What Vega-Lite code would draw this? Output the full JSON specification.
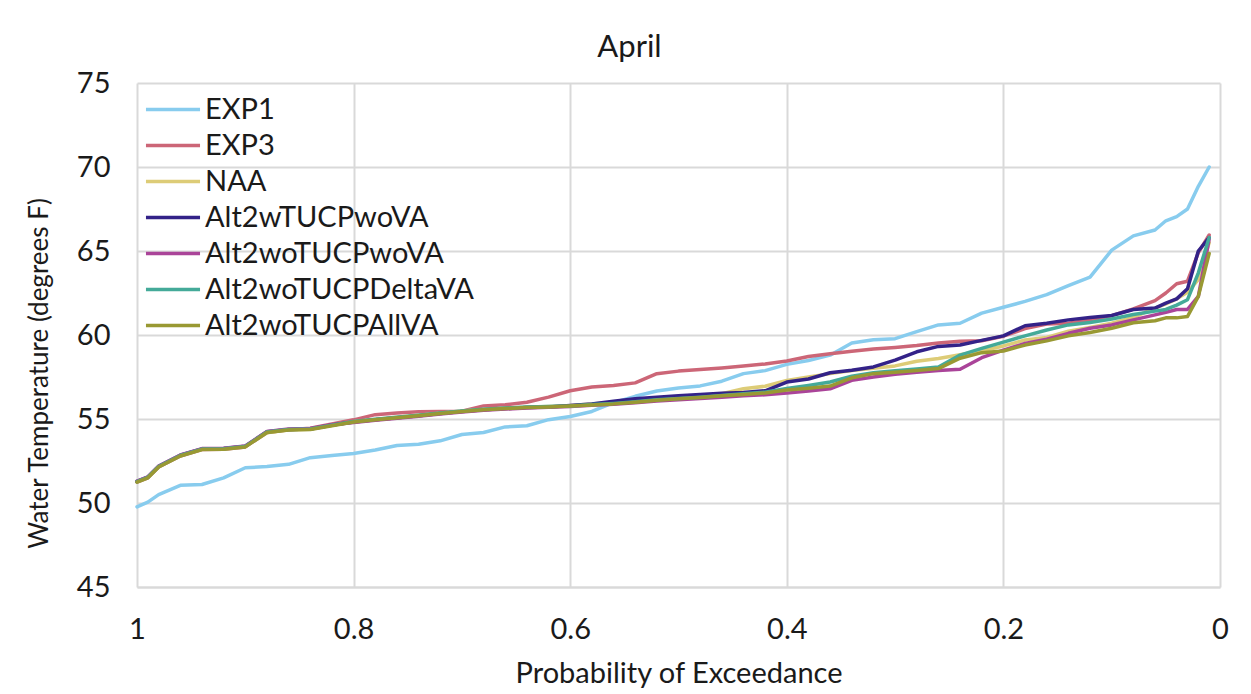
{
  "$schema": "https://vega.github.io/schema/vega-lite/v6.json",
  "autosize": "none",
  "width": 1083,
  "height": 504,
  "padding": {"left": 137, "top": 83, "right": 31, "bottom": 107},
  "background": "white",
  "config": {"font": "Lato", "view": {"stroke": null}},
  "title": {"text": "April", "fontSize": 31, "fontWeight": "normal", "color": "#1a1a1a", "anchor": "middle", "frame": "group", "offset": -19, "baseline": "alphabetic", "dx": -49},
  "data": {"values": [
    {"p": 1.00, "EXP1": 49.77, "EXP3": 51.24, "NAA": 51.26, "Alt2wTUCPwoVA": 51.28, "Alt2woTUCPwoVA": 51.3, "Alt2woTUCPDeltaVA": 51.27, "Alt2woTUCPAllVA": 51.24},
    {"p": 0.99, "EXP1": 50.05, "EXP3": 51.5, "NAA": 51.52, "Alt2wTUCPwoVA": 51.54, "Alt2woTUCPwoVA": 51.56, "Alt2woTUCPDeltaVA": 51.53, "Alt2woTUCPAllVA": 51.5},
    {"p": 0.98, "EXP1": 50.5, "EXP3": 52.14, "NAA": 52.16, "Alt2wTUCPwoVA": 52.18, "Alt2woTUCPwoVA": 52.2, "Alt2woTUCPDeltaVA": 52.17, "Alt2woTUCPAllVA": 52.14},
    {"p": 0.96, "EXP1": 51.05, "EXP3": 52.8, "NAA": 52.82, "Alt2wTUCPwoVA": 52.84, "Alt2woTUCPwoVA": 52.86, "Alt2woTUCPDeltaVA": 52.83, "Alt2woTUCPAllVA": 52.8},
    {"p": 0.94, "EXP1": 51.1, "EXP3": 53.18, "NAA": 53.2, "Alt2wTUCPwoVA": 53.22, "Alt2woTUCPwoVA": 53.24, "Alt2woTUCPDeltaVA": 53.21, "Alt2woTUCPAllVA": 53.18},
    {"p": 0.92, "EXP1": 51.5, "EXP3": 53.2, "NAA": 53.22, "Alt2wTUCPwoVA": 53.24, "Alt2woTUCPwoVA": 53.26, "Alt2woTUCPDeltaVA": 53.23, "Alt2woTUCPAllVA": 53.2},
    {"p": 0.90, "EXP1": 52.1, "EXP3": 53.34, "NAA": 53.36, "Alt2wTUCPwoVA": 53.38, "Alt2woTUCPwoVA": 53.4, "Alt2woTUCPDeltaVA": 53.37, "Alt2woTUCPAllVA": 53.34},
    {"p": 0.88, "EXP1": 52.17, "EXP3": 54.2, "NAA": 54.18, "Alt2wTUCPwoVA": 54.24, "Alt2woTUCPwoVA": 54.26, "Alt2woTUCPDeltaVA": 54.23, "Alt2woTUCPAllVA": 54.2},
    {"p": 0.86, "EXP1": 52.3, "EXP3": 54.36, "NAA": 54.36, "Alt2wTUCPwoVA": 54.38, "Alt2woTUCPwoVA": 54.4, "Alt2woTUCPDeltaVA": 54.37, "Alt2woTUCPAllVA": 54.34},
    {"p": 0.84, "EXP1": 52.7, "EXP3": 54.45, "NAA": 54.39, "Alt2wTUCPwoVA": 54.41, "Alt2woTUCPwoVA": 54.43, "Alt2woTUCPDeltaVA": 54.4, "Alt2woTUCPAllVA": 54.37},
    {"p": 0.82, "EXP1": 52.83, "EXP3": 54.7, "NAA": 54.62, "Alt2wTUCPwoVA": 54.64, "Alt2woTUCPwoVA": 54.66, "Alt2woTUCPDeltaVA": 54.63, "Alt2woTUCPAllVA": 54.6},
    {"p": 0.80, "EXP1": 52.95, "EXP3": 54.95, "NAA": 54.84, "Alt2wTUCPwoVA": 54.82, "Alt2woTUCPwoVA": 54.79, "Alt2woTUCPDeltaVA": 54.85, "Alt2woTUCPAllVA": 54.82},
    {"p": 0.78, "EXP1": 53.15, "EXP3": 55.26, "NAA": 54.97, "Alt2wTUCPwoVA": 54.95, "Alt2woTUCPwoVA": 54.92, "Alt2woTUCPDeltaVA": 54.98, "Alt2woTUCPAllVA": 54.95},
    {"p": 0.76, "EXP1": 53.42, "EXP3": 55.36, "NAA": 55.1, "Alt2wTUCPwoVA": 55.08, "Alt2woTUCPwoVA": 55.05, "Alt2woTUCPDeltaVA": 55.11, "Alt2woTUCPAllVA": 55.08},
    {"p": 0.74, "EXP1": 53.5, "EXP3": 55.43, "NAA": 55.22, "Alt2wTUCPwoVA": 55.2, "Alt2woTUCPwoVA": 55.17, "Alt2woTUCPDeltaVA": 55.23, "Alt2woTUCPAllVA": 55.2},
    {"p": 0.72, "EXP1": 53.7, "EXP3": 55.44, "NAA": 55.35, "Alt2wTUCPwoVA": 55.33, "Alt2woTUCPwoVA": 55.3, "Alt2woTUCPDeltaVA": 55.36, "Alt2woTUCPAllVA": 55.33},
    {"p": 0.70, "EXP1": 54.08, "EXP3": 55.46, "NAA": 55.47, "Alt2wTUCPwoVA": 55.45, "Alt2woTUCPwoVA": 55.42, "Alt2woTUCPDeltaVA": 55.48, "Alt2woTUCPAllVA": 55.45},
    {"p": 0.68, "EXP1": 54.2, "EXP3": 55.78, "NAA": 55.57, "Alt2wTUCPwoVA": 55.55, "Alt2woTUCPwoVA": 55.52, "Alt2woTUCPDeltaVA": 55.58, "Alt2woTUCPAllVA": 55.55},
    {"p": 0.66, "EXP1": 54.53, "EXP3": 55.85, "NAA": 55.64, "Alt2wTUCPwoVA": 55.62, "Alt2woTUCPwoVA": 55.59, "Alt2woTUCPDeltaVA": 55.65, "Alt2woTUCPAllVA": 55.62},
    {"p": 0.64, "EXP1": 54.6, "EXP3": 56.0, "NAA": 55.7, "Alt2wTUCPwoVA": 55.68, "Alt2woTUCPwoVA": 55.65, "Alt2woTUCPDeltaVA": 55.71, "Alt2woTUCPAllVA": 55.68},
    {"p": 0.62, "EXP1": 54.96, "EXP3": 56.3, "NAA": 55.74, "Alt2wTUCPwoVA": 55.72, "Alt2woTUCPwoVA": 55.7, "Alt2woTUCPDeltaVA": 55.75, "Alt2woTUCPAllVA": 55.72},
    {"p": 0.60, "EXP1": 55.15, "EXP3": 56.68, "NAA": 55.8, "Alt2wTUCPwoVA": 55.8, "Alt2woTUCPwoVA": 55.75, "Alt2woTUCPDeltaVA": 55.78, "Alt2woTUCPAllVA": 55.77},
    {"p": 0.58, "EXP1": 55.45, "EXP3": 56.9, "NAA": 55.9, "Alt2wTUCPwoVA": 55.9, "Alt2woTUCPwoVA": 55.82, "Alt2woTUCPDeltaVA": 55.86, "Alt2woTUCPAllVA": 55.84},
    {"p": 0.56, "EXP1": 55.97, "EXP3": 57.0, "NAA": 56.0, "Alt2wTUCPwoVA": 56.05, "Alt2woTUCPwoVA": 55.88, "Alt2woTUCPDeltaVA": 55.93, "Alt2woTUCPAllVA": 55.9},
    {"p": 0.54, "EXP1": 56.35, "EXP3": 57.15, "NAA": 56.1, "Alt2wTUCPwoVA": 56.2, "Alt2woTUCPwoVA": 55.97, "Alt2woTUCPDeltaVA": 56.02, "Alt2woTUCPAllVA": 56.0},
    {"p": 0.52, "EXP1": 56.67, "EXP3": 57.7, "NAA": 56.2, "Alt2wTUCPwoVA": 56.3, "Alt2woTUCPwoVA": 56.07, "Alt2woTUCPDeltaVA": 56.14, "Alt2woTUCPAllVA": 56.12},
    {"p": 0.50, "EXP1": 56.85, "EXP3": 57.85, "NAA": 56.3, "Alt2wTUCPwoVA": 56.38, "Alt2woTUCPwoVA": 56.15, "Alt2woTUCPDeltaVA": 56.22, "Alt2woTUCPAllVA": 56.2},
    {"p": 0.48, "EXP1": 56.97, "EXP3": 57.94, "NAA": 56.4, "Alt2wTUCPwoVA": 56.46, "Alt2woTUCPwoVA": 56.22, "Alt2woTUCPDeltaVA": 56.3, "Alt2woTUCPAllVA": 56.28},
    {"p": 0.46, "EXP1": 57.25, "EXP3": 58.04, "NAA": 56.5, "Alt2wTUCPwoVA": 56.54, "Alt2woTUCPwoVA": 56.3, "Alt2woTUCPDeltaVA": 56.4, "Alt2woTUCPAllVA": 56.38},
    {"p": 0.44, "EXP1": 57.7, "EXP3": 58.15, "NAA": 56.8, "Alt2wTUCPwoVA": 56.58, "Alt2woTUCPwoVA": 56.38, "Alt2woTUCPDeltaVA": 56.5, "Alt2woTUCPAllVA": 56.46},
    {"p": 0.42, "EXP1": 57.88, "EXP3": 58.28, "NAA": 56.95, "Alt2wTUCPwoVA": 56.68, "Alt2woTUCPwoVA": 56.44, "Alt2woTUCPDeltaVA": 56.6, "Alt2woTUCPAllVA": 56.55},
    {"p": 0.40, "EXP1": 58.25, "EXP3": 58.45, "NAA": 57.3, "Alt2wTUCPwoVA": 57.2, "Alt2woTUCPwoVA": 56.54, "Alt2woTUCPDeltaVA": 56.82, "Alt2woTUCPAllVA": 56.72},
    {"p": 0.38, "EXP1": 58.48, "EXP3": 58.72, "NAA": 57.5, "Alt2wTUCPwoVA": 57.38, "Alt2woTUCPwoVA": 56.66, "Alt2woTUCPDeltaVA": 57.0, "Alt2woTUCPAllVA": 56.83},
    {"p": 0.36, "EXP1": 58.8, "EXP3": 58.88, "NAA": 57.7, "Alt2wTUCPwoVA": 57.75, "Alt2woTUCPwoVA": 56.8, "Alt2woTUCPDeltaVA": 57.2, "Alt2woTUCPAllVA": 56.96},
    {"p": 0.34, "EXP1": 59.52, "EXP3": 59.03, "NAA": 57.88, "Alt2wTUCPwoVA": 57.9, "Alt2woTUCPwoVA": 57.3, "Alt2woTUCPDeltaVA": 57.55, "Alt2woTUCPAllVA": 57.45},
    {"p": 0.32, "EXP1": 59.72, "EXP3": 59.16, "NAA": 58.02, "Alt2wTUCPwoVA": 58.1, "Alt2woTUCPwoVA": 57.5, "Alt2woTUCPDeltaVA": 57.75, "Alt2woTUCPAllVA": 57.7},
    {"p": 0.30, "EXP1": 59.78, "EXP3": 59.26, "NAA": 58.16, "Alt2wTUCPwoVA": 58.5, "Alt2woTUCPwoVA": 57.66, "Alt2woTUCPDeltaVA": 57.87, "Alt2woTUCPAllVA": 57.78},
    {"p": 0.28, "EXP1": 60.2, "EXP3": 59.38, "NAA": 58.44, "Alt2wTUCPwoVA": 59.0, "Alt2woTUCPwoVA": 57.78, "Alt2woTUCPDeltaVA": 57.98, "Alt2woTUCPAllVA": 57.88},
    {"p": 0.26, "EXP1": 60.6, "EXP3": 59.53, "NAA": 58.6, "Alt2wTUCPwoVA": 59.32, "Alt2woTUCPwoVA": 57.88, "Alt2woTUCPDeltaVA": 58.1, "Alt2woTUCPAllVA": 58.0},
    {"p": 0.24, "EXP1": 60.7, "EXP3": 59.63, "NAA": 58.82, "Alt2wTUCPwoVA": 59.4, "Alt2woTUCPwoVA": 57.96, "Alt2woTUCPDeltaVA": 58.8, "Alt2woTUCPAllVA": 58.62},
    {"p": 0.22, "EXP1": 61.3, "EXP3": 59.66, "NAA": 59.06, "Alt2wTUCPwoVA": 59.68, "Alt2woTUCPwoVA": 58.65, "Alt2woTUCPDeltaVA": 59.2, "Alt2woTUCPAllVA": 58.95},
    {"p": 0.20, "EXP1": 61.65, "EXP3": 59.93, "NAA": 59.35, "Alt2wTUCPwoVA": 59.95, "Alt2woTUCPwoVA": 59.1, "Alt2woTUCPDeltaVA": 59.58, "Alt2woTUCPAllVA": 59.05},
    {"p": 0.18, "EXP1": 62.0, "EXP3": 60.38, "NAA": 59.7, "Alt2wTUCPwoVA": 60.55, "Alt2woTUCPwoVA": 59.5, "Alt2woTUCPDeltaVA": 59.95, "Alt2woTUCPAllVA": 59.4},
    {"p": 0.16, "EXP1": 62.4, "EXP3": 60.65, "NAA": 59.85, "Alt2wTUCPwoVA": 60.7, "Alt2woTUCPwoVA": 59.75, "Alt2woTUCPDeltaVA": 60.3, "Alt2woTUCPAllVA": 59.65},
    {"p": 0.14, "EXP1": 62.94, "EXP3": 60.7, "NAA": 60.22, "Alt2wTUCPwoVA": 60.9, "Alt2woTUCPwoVA": 60.1, "Alt2woTUCPDeltaVA": 60.6, "Alt2woTUCPAllVA": 59.95},
    {"p": 0.12, "EXP1": 63.45, "EXP3": 60.9, "NAA": 60.45, "Alt2wTUCPwoVA": 61.04, "Alt2woTUCPwoVA": 60.4, "Alt2woTUCPDeltaVA": 60.75, "Alt2woTUCPAllVA": 60.15},
    {"p": 0.10, "EXP1": 65.05, "EXP3": 61.15, "NAA": 60.7, "Alt2wTUCPwoVA": 61.16, "Alt2woTUCPwoVA": 60.6, "Alt2woTUCPDeltaVA": 60.95, "Alt2woTUCPAllVA": 60.4},
    {"p": 0.08, "EXP1": 65.9, "EXP3": 61.55, "NAA": 61.05, "Alt2wTUCPwoVA": 61.52, "Alt2woTUCPwoVA": 60.9, "Alt2woTUCPDeltaVA": 61.22, "Alt2woTUCPAllVA": 60.73},
    {"p": 0.06, "EXP1": 66.25, "EXP3": 62.05, "NAA": 61.6, "Alt2wTUCPwoVA": 61.6, "Alt2woTUCPwoVA": 61.2, "Alt2woTUCPDeltaVA": 61.42, "Alt2woTUCPAllVA": 60.85},
    {"p": 0.05, "EXP1": 66.8, "EXP3": 62.5, "NAA": 61.85, "Alt2wTUCPwoVA": 61.9, "Alt2woTUCPwoVA": 61.35, "Alt2woTUCPDeltaVA": 61.52, "Alt2woTUCPAllVA": 61.02},
    {"p": 0.04, "EXP1": 67.05, "EXP3": 63.05, "NAA": 62.15, "Alt2wTUCPwoVA": 62.15, "Alt2woTUCPwoVA": 61.52, "Alt2woTUCPDeltaVA": 61.78, "Alt2woTUCPAllVA": 61.02},
    {"p": 0.03, "EXP1": 67.5, "EXP3": 63.2, "NAA": 62.55, "Alt2wTUCPwoVA": 62.75, "Alt2woTUCPwoVA": 61.52, "Alt2woTUCPDeltaVA": 62.1, "Alt2woTUCPAllVA": 61.1},
    {"p": 0.02, "EXP1": 68.85, "EXP3": 64.9, "NAA": 63.3, "Alt2wTUCPwoVA": 65.0, "Alt2woTUCPwoVA": 62.3, "Alt2woTUCPDeltaVA": 63.7, "Alt2woTUCPAllVA": 62.3},
    {"p": 0.01, "EXP1": 70.0, "EXP3": 65.95, "NAA": 65.5, "Alt2wTUCPwoVA": 65.8, "Alt2woTUCPwoVA": 65.7, "Alt2woTUCPDeltaVA": 65.8, "Alt2woTUCPAllVA": 64.85}
  ]},
  "transform": [
    {"fold": ["EXP1", "EXP3", "NAA", "Alt2wTUCPwoVA", "Alt2woTUCPwoVA", "Alt2woTUCPDeltaVA", "Alt2woTUCPAllVA"], "as": ["series", "temp"]}
  ],
  "mark": {"type": "line", "strokeWidth": 3.5, "strokeJoin": "round", "strokeCap": "round"},
  "encoding": {
    "x": {
      "field": "p", "type": "quantitative",
      "scale": {"domain": [0, 1], "reverse": true, "nice": false},
      "axis": {
        "values": [0, 0.2, 0.4, 0.6, 0.8, 1], "format": "~g", "labelFlush": false,
        "labelFontSize": 29, "labelColor": "#1a1a1a", "labelPadding": 28, "ticks": false,
        "domain": true, "domainColor": "#d9d9d9", "domainWidth": 2,
        "grid": true, "gridColor": "#d9d9d9", "gridWidth": 2,
        "title": "Probability of Exceedance", "titleFontSize": 29, "titleFontWeight": "normal", "titleColor": "#1a1a1a",
        "titleY": 95, "titleBaseline": "alphabetic"
      }
    },
    "y": {
      "field": "temp", "type": "quantitative",
      "scale": {"domain": [45, 75], "nice": false, "zero": false},
      "axis": {
        "values": [45, 50, 55, 60, 65, 70, 75], "labelFlush": false,
        "labelFontSize": 29, "labelColor": "#1a1a1a", "labelPadding": 27, "ticks": false,
        "domain": false,
        "grid": true, "gridColor": "#d9d9d9", "gridWidth": 2,
        "title": "Water Temperature (degrees F)", "titleFontSize": 26, "titleFontWeight": "normal", "titleColor": "#1a1a1a",
        "titleX": -90, "titleY": 290, "titleAngle": -90, "titleAlign": "center", "titleBaseline": "alphabetic"
      }
    },
    "color": {
      "field": "series", "type": "nominal",
      "scale": {
        "domain": ["EXP1", "EXP3", "NAA", "Alt2wTUCPwoVA", "Alt2woTUCPwoVA", "Alt2woTUCPDeltaVA", "Alt2woTUCPAllVA"],
        "range": ["#88CCEE", "#CC6677", "#DDCC77", "#332288", "#AA4499", "#44AA99", "#999933"]
      },
      "legend": {
        "orient": "none", "legendX": 15, "legendY": 5.6, "title": null, "padding": 0,
        "symbolType": "M-1.41,0H1.41", "symbolSize": 1470, "symbolStrokeWidth": 3.5,
        "labelFontSize": 29, "labelColor": "#1a1a1a", "labelOffset": 11, "rowPadding": 0, "labelLimit": 0
      }
    }
  }
}
